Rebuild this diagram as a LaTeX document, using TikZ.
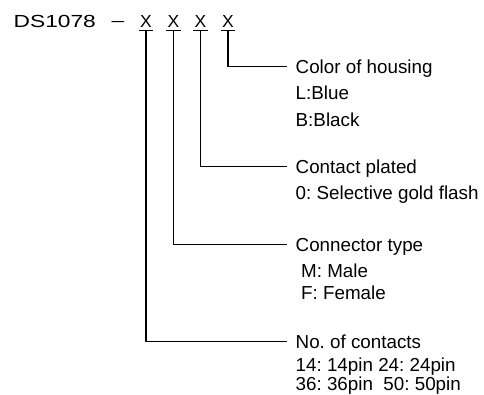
\documentclass[tikz,border=0pt]{standalone}
\usepackage{fontspec}
\setmainfont{Liberation Sans}
\frenchspacing
\begin{document}
\begin{tikzpicture}[x=1pt,y=-1pt,
  lbl/.style={font=\fontsize{18.8}{20}\selectfont, inner sep=0pt, anchor=base west, text height=14pt, text depth=0pt},
  hdr/.style={font=\fontsize{17.5}{18}\selectfont, inner sep=0pt, anchor=base west},
  xmark/.style={font=\fontsize{17.5}{18}\selectfont, inner xsep=1pt, inner ysep=0pt, text height=12.5pt, text depth=2.5pt, anchor=base},
  lead/.style={line width=1.3pt, shorten >=9pt},
  uline/.style={line width=1.3pt}]
\useasboundingbox (0,0) rectangle (484,395);
% header
\node[hdr] (hd) at (13.5,28) {\scalebox{1.3}[1]{DS1078}};
\node[hdr, anchor=base] (dash) at (118,26.5) {\scalebox{1.3}[1]{–}};
\node[xmark] (x1) at (146,28) {X};
\node[xmark] (x2) at (173.5,28) {X};
\node[xmark] (x3) at (200.5,28) {X};
\node[xmark] (x4) at (228,28) {X};
\foreach \n in {x1,x2,x3,x4} \draw[uline] (\n.south west) -- (\n.south east);
% titles
\node[lbl] (t1) at (295.5,73.3) {Color of housing};
\node[lbl] (t2) at (295.5,173.3) {Contact plated};
\node[lbl] (t3) at (295.5,251.3) {Connector type};
\node[lbl] (t4) at (295.5,348.5) {No. of contacts};
% details
\node[lbl] (d11) at (295.5,100) {L:Blue};
\node[lbl] (d12) at (295.5,126.7) {B:Black};
\node[lbl] (d21) at (295.5,200) {0: Selective gold flash};
\node[lbl] (d31) at (301,277.5) {M: Male};
\node[lbl] (d32) at (301,299) {F: Female};
\node[lbl] (d41) at (295.5,371) {14: 14pin 24: 24pin};
\node[lbl] (d42) at (295.5,390.5) {36: 36pin\ \ 50: 50pin};
% leaders
\draw[lead] (x4.south) |- (t1.west);
\draw[lead] (x3.south) |- (t2.west);
\draw[lead] (x2.south) |- (t3.west);
\draw[lead] (x1.south) |- (t4.west);
\end{tikzpicture}
\end{document}
